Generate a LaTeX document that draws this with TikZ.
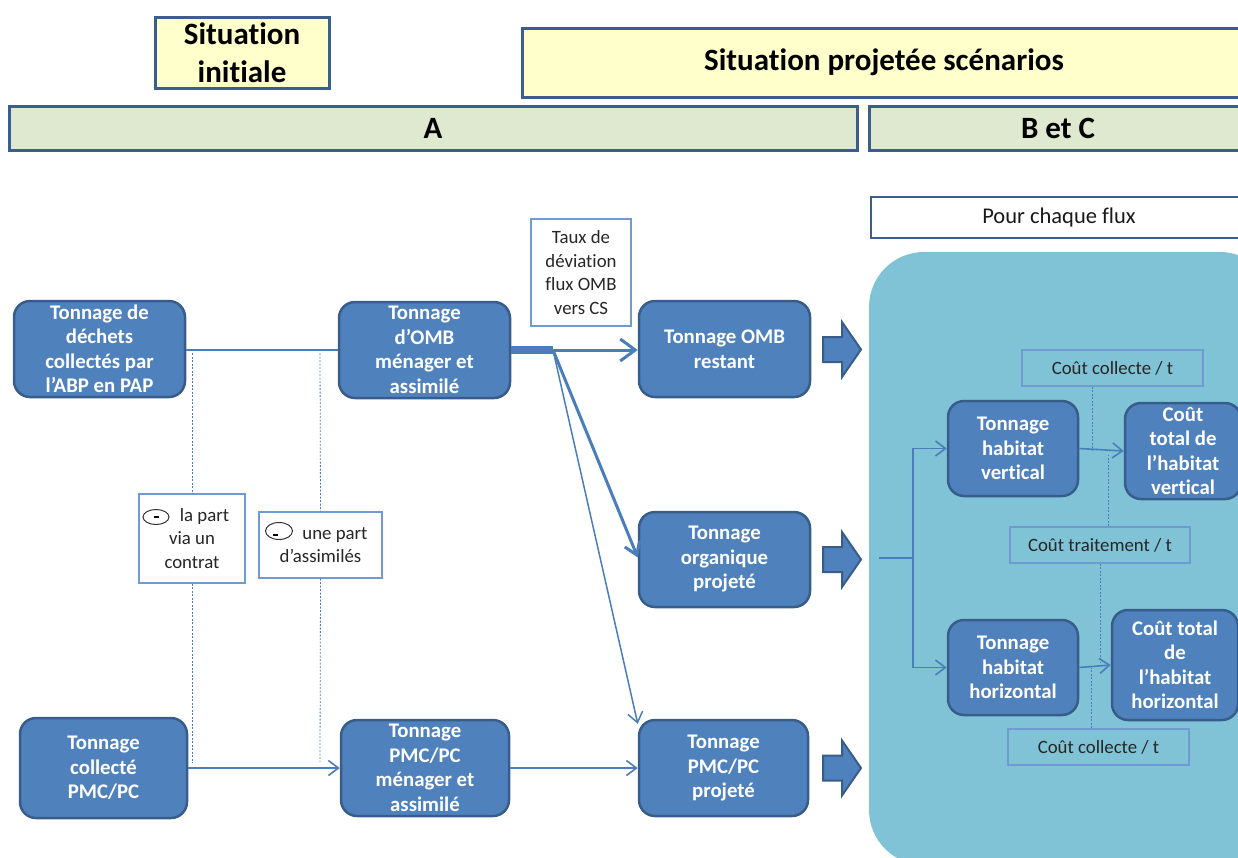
\documentclass[tikz,border=0pt]{standalone}
\usepackage{fontspec}
\setmainfont{Carlito}[Ligatures={NoCommon}]
\usetikzlibrary{arrows.meta,calc}
\definecolor{nblue}{HTML}{4F81BD}
\definecolor{nborder}{HTML}{385D8A}
\definecolor{lnblue}{HTML}{4A7EBB}
\definecolor{hyellow}{HTML}{FFFFCC}
\definecolor{hgreen}{HTML}{DFE9CF}
\definecolor{hborder}{HTML}{3B5E8E}
\definecolor{tealbg}{HTML}{80C3D6}
\definecolor{lbox}{HTML}{6F9BD2}
\newcommand\nodefnt{\fontsize{20.8}{24.5}\selectfont\bfseries}
\newcommand\hdrfnt{\fontsize{31}{38}\selectfont\bfseries}
\newcommand\lblfnt{\fontsize{18.8}{23.5}\selectfont}
\begin{document}
\begin{tikzpicture}[x=1pt,y=-1pt,
  tnode/.style={draw=nborder, line width=2.5pt, fill=nblue, rounded corners=16pt,
    text=white, font=\nodefnt, align=center, inner sep=0pt},
  hdr/.style={draw=hborder, line width=3pt, font=\hdrfnt, align=center, inner sep=0pt},
  lbl/.style={draw=lbox, line width=1.1pt, font=\lblfnt, align=center, inner sep=0pt, text=black!85},
  conn/.style={draw=lnblue, line width=1.6pt},
  arr/.style={conn, -{Straight Barb[length=10pt,width=15pt]}},
  dotl/.style={draw=lnblue, line width=0.8pt, dash pattern=on 2pt off 1.5pt},
  blockarrow/.pic={\draw[draw=nborder, line width=2pt, fill=nblue, line join=miter]
    (-19,-12.5) -- (0,-12.5) -- (0,-27.5) -- (19,0) -- (0,27.5) -- (0,12.5) -- (-19,12.5) -- cycle;}
]
\useasboundingbox (0,0) rectangle (1238,857);
\clip (0,0) rectangle (1238,857);

% big teal region
\path[fill=tealbg, rounded corners=55pt] (869,252) rectangle (1275,865);

% headers
\node[hdr, fill=hyellow, minimum width=174pt, minimum height=71pt] (hinit) at (242,52.5) {Situation\\initiale};
\node[hdr, fill=hyellow, minimum width=724pt, minimum height=69pt] (hproj) at (884,62.5) {Situation projetée scénarios};
\node[hdr, fill=hgreen, minimum width=848pt, minimum height=44pt] (hA) at (433,128) {A};
\node[hdr, fill=hgreen, minimum width=378pt, minimum height=44pt] (hBC) at (1058,128) {B et C};
\node[draw=hborder, line width=2.5pt, fill=white, minimum width=376pt, minimum height=41pt,
  inner sep=0pt, font=\fontsize{22.5}{27}\selectfont, text=black!90] (flux) at (1059,217.5) {Pour chaque flux};

% blue nodes
\node[tnode, minimum width=171pt, minimum height=96pt] (n1) at (99.5,349) {Tonnage de\\déchets\\collectés par\\l’ABP en PAP};
\node[tnode, minimum width=171pt, minimum height=96pt] (n2) at (424.5,350) {Tonnage\\d’OMB\\ménager et\\assimilé};
\node[tnode, minimum width=171pt, minimum height=96pt] (n3) at (724.5,349) {Tonnage OMB\\restant};
\node[tnode, minimum width=171pt, minimum height=95pt] (n4) at (724.5,559.5) {Tonnage\\organique\\projeté};
\node[tnode, minimum width=167pt, minimum height=100pt] (n5) at (103.5,768) {Tonnage\\collecté\\PMC/PC};
\node[tnode, minimum width=168pt, minimum height=96pt] (n6) at (425,768) {Tonnage\\PMC/PC\\ménager et\\assimilé};
\node[tnode, minimum width=169pt, minimum height=96pt] (n7) at (723.5,768) {Tonnage\\PMC/PC\\projeté};
\node[tnode, minimum width=130pt, minimum height=95pt] (n8) at (1013,448.5) {Tonnage\\habitat\\vertical};
\node[tnode, minimum width=116pt, minimum height=96pt] (n9) at (1183,451) {Coût\\total de\\l’habitat\\vertical};
\node[tnode, minimum width=130pt, minimum height=95pt] (n10) at (1013,667.5) {Tonnage\\habitat\\horizontal};
\node[tnode, minimum width=126pt, minimum height=110pt] (n11) at (1175,665) {Coût total\\de\\l’habitat\\horizontal};

% label boxes
\node[lbl, fill=white, minimum width=100pt, minimum height=107pt] (taux) at (581,272.5) {Taux de\\déviation\\flux OMB\\vers CS};
\node[lbl, fill=white, minimum width=106pt, minimum height=89pt] (lapart) at (192,538.5) {\hspace*{37pt}la part\hspace*{12pt}\\via un\\contrat};
\node[lbl, fill=white, minimum width=123pt, minimum height=66pt] (unepart) at (320.5,545) {\hspace*{37pt}une part\hspace*{8pt}\\d’assimilés};
\node[lbl, minimum width=181pt, minimum height=36pt] (ctop) at (1112.5,368) {Coût collecte / t};
\node[lbl, minimum width=180pt, minimum height=36pt] (ctrt) at (1100,545) {Coût traitement / t};
\node[lbl, minimum width=181pt, minimum height=36pt] (cbot) at (1098.5,747) {Coût collecte / t};

% minus symbols
\draw[black!80, line width=1pt] (156,517) ellipse [x radius=13, y radius=7.5];
\draw[black, line width=2pt] (153.5,517) -- (158.5,517);
\draw[black!80, line width=1pt] (279,531) ellipse [x radius=13.5, y radius=8.5];
\draw[black, line width=2pt] (273,535) -- (278,535);

% block arrows
\pic at (842,349.5) {blockarrow};
\pic at (842,559.5) {blockarrow};
\pic at (842,768) {blockarrow};

% coordinates
\coordinate (split) at (553,350);
\coordinate (la1) at (192,353);
\coordinate (la2) at (192,763);
\coordinate (un1) at (320,353);
\coordinate (un2) at (320,762);
\coordinate (fs) at (879,558);
\coordinate (fb) at (913,558);
\coordinate (pv) at (1092,450);
\coordinate (pt) at (1108,455);
\coordinate (pb) at (1100,662);
\coordinate (pc) at (1091,668);

% connectors left
\draw[conn] (n1.east |- split) -- (n2.west |- split);
\draw[draw=lnblue, line width=8pt] (n2.east |- split) -- (split);
\draw[conn, line width=3pt, -{Straight Barb[length=15pt,width=22pt]}] (split) -- (n3.west |- split);
\draw[conn, line width=3pt, -{Straight Barb[length=12pt,width=16pt]}] (split) -- ($(n4.west)+(0,-2)$);
\draw[arr, line width=1.5pt] (split) -- ($(n7.north west)+(0,5)$);
\draw[arr] (n5.east) -- (n6.west);
\draw[arr] (n6.east) -- (n7.west);

% dotted lines left
\draw[dotl] (la1) -- (lapart.north);
\draw[dotl] (lapart.south) -- (la2);
\draw[dotl] (un1) -- (unepart.north);
\draw[dotl] (unepart.south) -- (un2);

% right connectors
\draw[conn] (fs) -- (fb);
\draw[arr] (fb) |- (n8.west);
\draw[arr] (fb) |- (n10.west);
\draw[arr] (n8.east) -- (n9.west);
\draw[arr] (n10.east) -- (n11.west);

% dotted lines right
\draw[dotl] (ctop.south -| pv) -- (pv);
\draw[dotl] (ctrt.north -| pt) -- (pt);
\draw[dotl] (ctrt.south -| pb) -- (pb);
\draw[dotl] (cbot.north -| pc) -- (pc);
\end{tikzpicture}
\end{document}
